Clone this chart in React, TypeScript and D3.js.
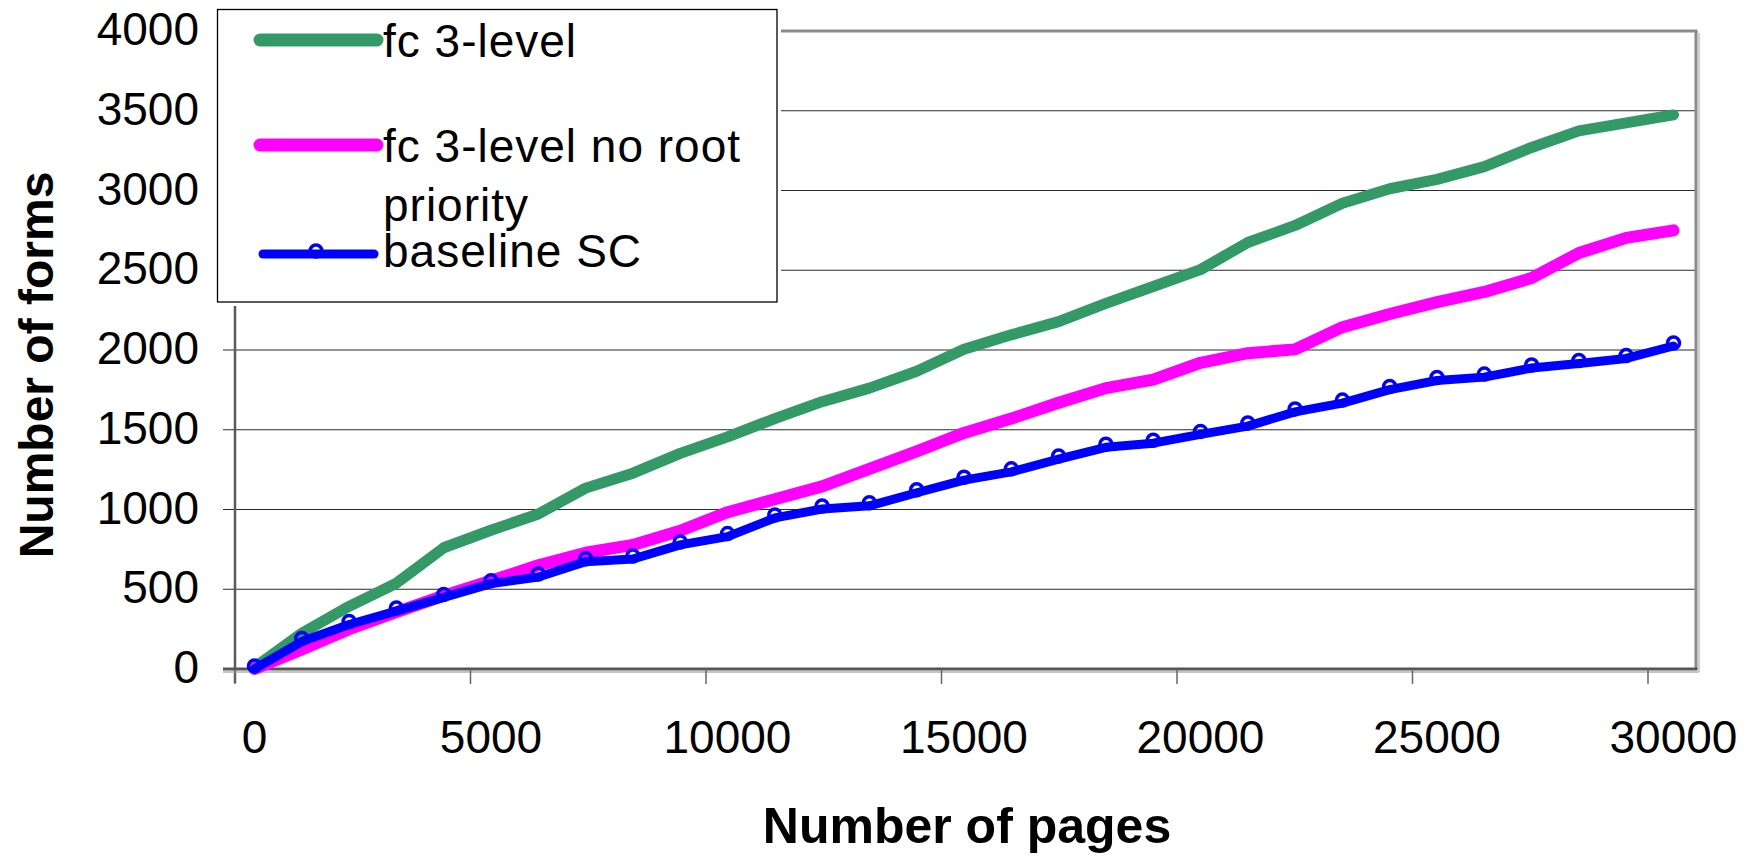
import React from "react";
import * as d3 from "d3";

// ---- data ----
const pages = [
  0, 1000, 2000, 3000, 4000, 5000, 6000, 7000, 8000, 9000, 10000,
  11000, 12000, 13000, 14000, 15000, 16000, 17000, 18000, 19000, 20000,
  21000, 22000, 23000, 24000, 25000, 26000, 27000, 28000, 29000, 30000,
];
const fc3Level = [
  10, 224, 393, 538, 760, 870, 972, 1134, 1228, 1352, 1455,
  1570, 1676, 1761, 1867, 2004, 2095, 2178, 2292, 2398, 2504,
  2674, 2781, 2920, 3011, 3070, 3150, 3270, 3374, 3424, 3474,
];
const fc3LevelNoRoot = [
  0, 122, 250, 357, 460, 553, 650, 729, 778, 867, 983,
  1064, 1145, 1255, 1365, 1480, 1570, 1669, 1761, 1814, 1920,
  1980, 2004, 2143, 2226, 2300, 2364, 2451, 2608, 2703, 2750,
];
const baselineSC = [
  0, 172, 279, 363, 449, 535, 577, 673, 690, 778, 830,
  947, 1003, 1023, 1105, 1184, 1236, 1316, 1390, 1416, 1471,
  1523, 1612, 1667, 1752, 1809, 1830, 1887, 1915, 1947, 2025,
];
const yTicks = [0, 500, 1000, 1500, 2000, 2500, 3000, 3500, 4000];
const xTicks = [0, 5000, 10000, 15000, 20000, 25000, 30000];
const legendLabels = ["fc 3-level", "fc 3-level no root", "priority", "baseline SC"];
const xTitle = "Number of pages";
const yTitle = "Number of forms";

const FONT = "'Liberation Sans', Arial, Helvetica, sans-serif";
const GREEN = "#339966";
const MAGENTA = "#FF00FF";
const BLUE = "#0000FF";

export default function App() {
  const W = 1759;
  const H = 856;
  const plotLeft = 235;
  const plotRight = 1696;
  const plotTop = 31;
  const plotBottom = 669;

  const x = d3.scaleLinear().domain([0, 30000]).range([254.5, 1673.5]);
  const xTickPos = d3.scaleLinear().domain([0, 30000]).range([235, 1648]);
  const y = d3.scaleLinear().domain([0, 4000]).range([plotBottom, plotTop]);

  const line = d3
    .line<number>()
    .x((_, i) => x(pages[i]))
    .y((d) => y(d));

  const series = [
    { values: fc3Level, color: GREEN, width: 11 },
    { values: fc3LevelNoRoot, color: MAGENTA, width: 12 },
    { values: baselineSC, color: BLUE, width: 9 },
  ];

  return (
    <svg
      width={W}
      height={H}
      viewBox={`0 0 ${W} ${H}`}
      style={{ position: "absolute", left: 0, top: 0, background: "#fff" }}
    >
      <rect x={0} y={0} width={W} height={H} fill="#fff" />

      {/* gridlines + y tick marks */}
      {yTicks
        .filter((t) => t > 0 && t < 4000)
        .map((t) => (
          <line
            key={"g" + t}
            x1={plotLeft - 12}
            x2={plotRight}
            y1={y(t)}
            y2={y(t)}
            stroke="#2a2a2a"
            strokeWidth={1.2}
          />
        ))}

      {/* plot frame: top & right (grey with light shadow) */}
      <line x1={plotLeft} x2={plotRight + 1.5} y1={plotTop} y2={plotTop} stroke="#8a8a8a" strokeWidth={3} />
      <line x1={plotRight + 3} x2={plotRight + 3} y1={plotTop + 2} y2={plotBottom + 3} stroke="#cfcfcf" strokeWidth={2} />
      <line x1={plotRight} x2={plotRight} y1={plotTop} y2={plotBottom} stroke="#8a8a8a" strokeWidth={3} />

      {/* left axis */}
      <line x1={plotLeft} x2={plotLeft} y1={plotTop} y2={plotBottom + 14} stroke="#5a5a5a" strokeWidth={2.5} />
      <line x1={plotLeft - 12} x2={plotLeft} y1={plotTop} y2={plotTop} stroke="#5a5a5a" strokeWidth={1.5} />

      {/* bottom axis */}
      <line x1={plotLeft - 12} x2={plotRight + 3} y1={plotBottom + 3} y2={plotBottom + 3} stroke="#c4c4c4" strokeWidth={2} />
      <line x1={plotLeft - 12} x2={plotRight + 1.5} y1={plotBottom} y2={plotBottom} stroke="#555" strokeWidth={3} />
      {xTicks.map((t) => (
        <line
          key={"xt" + t}
          x1={xTickPos(t)}
          x2={xTickPos(t)}
          y1={plotBottom}
          y2={plotBottom + 15}
          stroke="#666"
          strokeWidth={1.5}
        />
      ))}

      {/* series */}
      {series.map((s, i) => (
        <path
          key={"s" + i}
          d={line(s.values) || ""}
          fill="none"
          stroke={s.color}
          strokeWidth={s.width}
          strokeLinejoin="round"
          strokeLinecap="round"
        />
      ))}
      {baselineSC.map((v, i) => (
        <circle
          key={"m" + i}
          cx={x(pages[i])}
          cy={y(v) - 3}
          r={6}
          fill="none"
          stroke={BLUE}
          strokeWidth={3.5}
        />
      ))}

      {/* y tick labels */}
      {yTicks.map((t) => (
        <text
          key={"yl" + t}
          x={199}
          y={y(t) + 14}
          textAnchor="end"
          fontFamily={FONT}
          fontSize={46}
          fill="#000"
        >
          {t}
        </text>
      ))}

      {/* x tick labels */}
      {xTicks.map((t) => (
        <text
          key={"xl" + t}
          x={x(t)}
          y={753}
          textAnchor="middle"
          fontFamily={FONT}
          fontSize={46}
          fill="#000"
        >
          {t}
        </text>
      ))}

      {/* axis titles */}
      <text
        x={967}
        y={843}
        textAnchor="middle"
        fontFamily={FONT}
        fontWeight="bold"
        fontSize={50}
        fill="#000"
      >
        {xTitle}
      </text>
      <text
        transform="translate(53,365) rotate(-90)"
        textAnchor="middle"
        fontFamily={FONT}
        fontWeight="bold"
        fontSize={48}
        fill="#000"
      >
        {yTitle}
      </text>

      {/* legend */}
      <rect x={214} y={6} width={567} height={300} fill="#fff" />
      <rect x={217.5} y={9.5} width={559.5} height={292.5} fill="#fff" stroke="#000" strokeWidth={1.3} />
      <line x1={260} x2={377} y1={40} y2={40} stroke={GREEN} strokeWidth={13} strokeLinecap="round" />
      <line x1={260} x2={377} y1={145} y2={145} stroke={MAGENTA} strokeWidth={13} strokeLinecap="round" />
      <line x1={263} x2={374} y1={254} y2={254} stroke={BLUE} strokeWidth={9} strokeLinecap="round" />
      <circle cx={316} cy={251} r={6} fill="none" stroke={BLUE} strokeWidth={3.5} />
      {[
        { t: legendLabels[0], yy: 57 },
        { t: legendLabels[1], yy: 162 },
        { t: legendLabels[2], yy: 221 },
        { t: legendLabels[3], yy: 267 },
      ].map((d, i) => (
        <text
          key={"lg" + i}
          x={383}
          y={d.yy}
          fontFamily={FONT}
          fontSize={46}
          letterSpacing={1}
          fill="#000"
        >
          {d.t}
        </text>
      ))}
    </svg>
  );
}
